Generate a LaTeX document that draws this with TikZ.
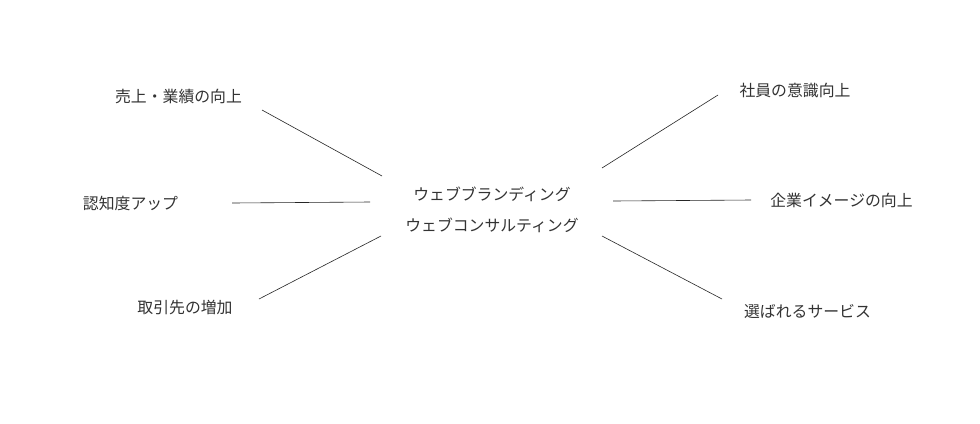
\documentclass[tikz,border=0pt]{standalone}
\usepackage{fontspec}
\setmainfont{Noto Sans CJK JP}
\definecolor{txt}{HTML}{333333}
\tikzset{
  lbl/.style={text=txt, font=\fontsize{15.9}{19}\selectfont, inner sep=0pt, anchor=center},
  conn/.style={draw=black!85, line width=0.6bp}
}
\begin{document}
\begin{tikzpicture}[x=1bp,y=-1bp]
\useasboundingbox[fill=white] (0,0) rectangle (980,423);
% center
\node[lbl] (c1) at (492,194) {ウェブブランディング};
\node[lbl] (c2) at (492,225) {ウェブコンサルティング};
% left labels
\node[lbl] (l1) at (178.5,96) {売上・業績の向上};
\node[lbl] (l2) at (130.5,203) {認知度アップ};
\node[lbl] (l3) at (185,307) {取引先の増加};
% right labels
\node[lbl] (r1) at (795,90) {社員の意識向上};
\node[lbl] (r2) at (841.5,200) {企業イメージの向上};
\node[lbl] (r3) at (807.5,312) {選ばれるサービス};
% connector ends
\coordinate (l1a) at (262,110); \coordinate (l1b) at (382,176);
\coordinate (l2a) at (232,203); \coordinate (l2b) at (370,202);
\coordinate (l3a) at (259,299); \coordinate (l3b) at (381,236);
\coordinate (r1a) at (602,168); \coordinate (r1b) at (718,95);
\coordinate (r2a) at (613,201); \coordinate (r2b) at (751,200);
\coordinate (r3a) at (602,236); \coordinate (r3b) at (722,299);
\draw[conn] (l1a) -- (l1b);
\draw[conn] (l2a) -- (l2b);
\draw[conn] (l3a) -- (l3b);
\draw[conn] (r1a) -- (r1b);
\draw[conn] (r2a) -- (r2b);
\draw[conn] (r3a) -- (r3b);
\end{tikzpicture}
\end{document}
